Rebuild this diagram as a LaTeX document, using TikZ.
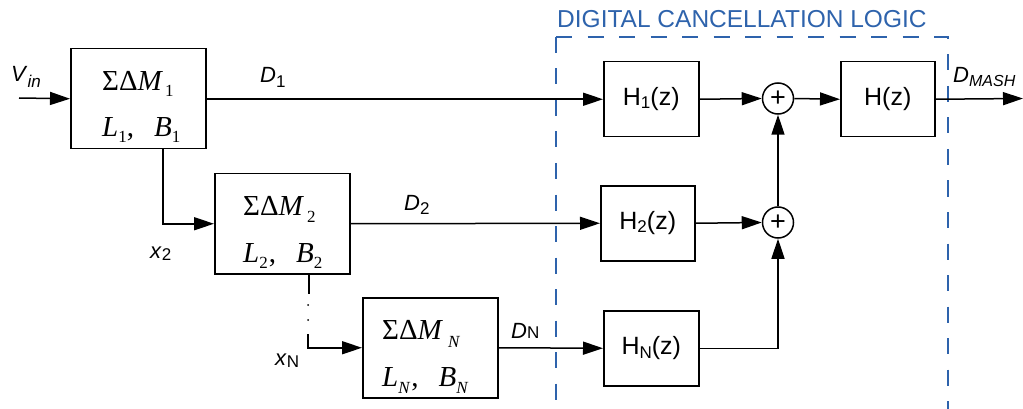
\documentclass[tikz,border=0pt]{standalone}
\usepackage{fontspec}
\setmainfont{Liberation Sans}
\newfontfamily\tms{Liberation Serif}
\usetikzlibrary{arrows.meta}
\definecolor{dclblue}{RGB}{46,99,172}
% lowered subscripts for the serif block texts and the sans labels
\newcommand\bsub[2][6pt]{\raisebox{-#1}{\fontsize{17}{17}\selectfont #2}}
\newcommand\lsub[2][3pt]{\raisebox{-#1}{\fontsize{17}{17}\selectfont #2}}
\tikzset{
  >={Triangle[length=20pt,width=13pt]},
  wire/.style={line width=1.5pt},
  blk/.style={draw, line width=1.5pt, inner sep=0pt, minimum width=135pt,
    minimum height=100pt, anchor=north west},
  filt/.style={draw, line width=1.5pt, inner sep=0pt, minimum width=95pt,
    minimum height=75pt, anchor=north west, font=\fontsize{25}{25}\selectfont},
  sumnode/.style={draw, circle, line width=1.5pt, inner sep=0pt,
    minimum size=31pt, font=\fontsize{27}{27}\selectfont},
  lbl/.style={anchor=base west, inner sep=0pt, font=\fontsize{22}{22}\selectfont},
  btxt/.style={anchor=base west, inner sep=0pt, font=\tms\fontsize{29}{29}\selectfont},
  dcl/.style={draw=dclblue, line width=2.7pt, dash pattern=on 16pt off 15.5pt},
}
\begin{document}
\begin{tikzpicture}[x=1pt,y=-1pt]
\useasboundingbox (0,0) rectangle (1023,409);

% cancellation logic frame
\draw[dcl] (556,37) -- (556,415);
\draw[dcl] (556,37) -- (948,37) -- (948,415);
\node[anchor=base west, inner sep=0pt, text=dclblue,
  font=\fontsize{24.5}{24.5}\selectfont] (title) at (557,28) {DIGITAL CANCELLATION LOGIC};

% modulator stages
\node[blk] (box1) at (70,48) {};
\node[blk] (box2) at (214,173) {};
\node[blk] (boxN) at (362,297) {};
\node[btxt] (b1a) at (102,91) {ΣΔ\textit{M}\hspace{2pt}\bsub{1}};
\node[btxt] (b1b) at (102,137) {\textit{L}\bsub{1},\hspace{20pt}\textit{B}\bsub{1}};
\node[btxt] (b2a) at (243,215) {ΣΔ\textit{M}\hspace{3pt}\bsub[7pt]{2}};
\node[btxt] (b2b) at (243,262) {\textit{L}\bsub{2}\hspace{1pt},\hspace{20pt}\textit{B}\bsub{2}};
\node[btxt] (bNa) at (382,339) {ΣΔ\textit{M}\hspace{5pt}\bsub[8pt]{\textit{N}}};
\node[btxt] (bNb) at (382,386) {\textit{L}\bsub[7pt]{\textit{N}}\hspace{1pt},\hspace{20pt}\textit{B}\bsub[7pt]{\textit{N}}};

% cancellation filters and adders
\node[filt] (h1) at (603,61) {H\lsub{1}(z)};
\node[filt, minimum width=94pt] (h2) at (600,185) {H\lsub{2}(z)};
\node[filt] (hN) at (603,310) {H\lsub[4pt]{N}(z)};
\node[filt, minimum width=94pt] (hz) at (840,61) {H(z)};
\node[sumnode] (s1) at (778,98.5) {+};
\node[sumnode] (s2) at (778,222.5) {+};

% free ends
\coordinate (vin) at (19,98);
\coordinate (dout) at (1023,98.5);
\coordinate (cN) at (308,334);

% signal labels
\node[lbl] (lvin) at (11,82) {\textit{V}\lsub[6pt]{\textit{in}}};
\node[lbl] (ld1) at (260,83) {\textit{D}\lsub[5pt]{1}};
\node[lbl] (ld2) at (404,211) {\textit{D}\lsub[3pt]{2}};
\node[lbl] (ldN) at (511,338) {\textit{D}\lsub[0pt]{N}};
\node[lbl] (lx2) at (150,258) {\textit{x}\lsub[2pt]{2}};
\node[lbl] (lxN) at (275,365) {\textit{x}\lsub[2pt]{N}};
\node[lbl] (ldm) at (953,83) {\textit{D}\lsub[4pt]{\fontsize{16}{16}\selectfont\textit{MASH}}};

% connectors
\draw[wire,->] (vin) -- (box1.west);
\draw[wire,->] (box1.east |- h1.west) -- (h1.west);
\draw[wire,->] ([xshift=24.5pt]box1.south) |- (box2.west);
\draw[wire,->] (box2.east) -- (h2.west);
\draw[wire] ([xshift=26.5pt]box2.south) -- ++(0,19);
\fill (308,305) circle (1pt) (308,320) circle (1pt);
\draw[wire,->] (cN) |- (boxN.west);
\draw[wire,->] (boxN.east) -- (hN.west);
\draw[wire,->] (h1.east) -- (s1.west);
\draw[wire,->] (h2.east) -- (s2.west);
\draw[wire,->] (hN.east) -| (s2.south);
\draw[wire,->] (s2.north) -- (s1.south);
\draw[wire,->] (s1.east) -- (hz.west);
\draw[wire,->] (hz.east) -- (dout);
\end{tikzpicture}
\end{document}
